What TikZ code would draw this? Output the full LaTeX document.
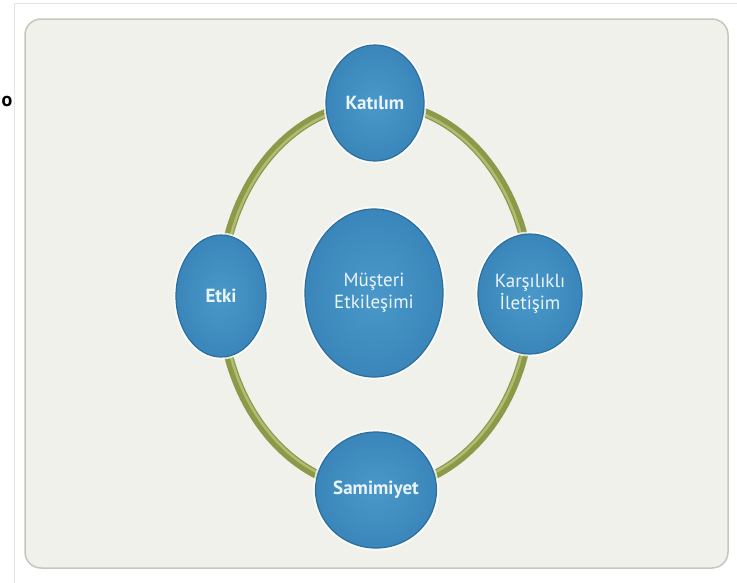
\documentclass[tikz,border=0pt]{standalone}
\usepackage{fontspec}
\setmainfont{PT Sans}
\usetikzlibrary{shapes.geometric}

\definecolor{framegray}{HTML}{E4E4E2}
\definecolor{panelfill}{HTML}{F1F1EB}
\definecolor{paneledge}{HTML}{C6C6BE}
\definecolor{ringdark}{HTML}{8C9948}
\definecolor{ringlight}{HTML}{B0BB74}
\definecolor{bubblein}{HTML}{4A98CA}
\definecolor{bubbleout}{HTML}{3A86BA}
\definecolor{bubbleedge}{HTML}{2C6E9C}
\definecolor{bubbletext}{HTML}{EAF5FB}

\begin{document}
\begin{tikzpicture}[x=1pt,y=-1pt,
  bubble/.style={ellipse, draw=bubbleedge, line width=1.2pt,
    inner color=bubblein, outer color=bubbleout, text=bubbletext,
    inner sep=0pt, align=center,
    preaction={draw=white, line width=5pt, opacity=.75}},
  orbit/.style={minimum width=98pt, minimum height=116pt},
  boldtext/.style={font=\fontsize{19}{23}\selectfont\bfseries},
  plaintext/.style={font=\fontsize{19}{22}\selectfont}]
  \useasboundingbox (0,0) rectangle (737,582);
  % frame and panel
  \fill[white] (0,0) rectangle (737,582);
  \draw[framegray, line width=1pt] (14,600) -- (14,3) -- (760,3);
  \draw[paneledge, fill=panelfill, line width=1.5pt, rounded corners=16pt]
    (25,19) rectangle (728,568);
  \node[font=\fontsize{20}{20}\selectfont\bfseries, inner sep=0pt] (cut) at (7,101) {o};
  % ring
  \coordinate (hub) at (376,296);
  \draw[ringdark, line width=9pt] (hub) ellipse [x radius=155, y radius=193];
  \draw[ringlight, line width=2.5pt] (hub) ellipse [x radius=153, y radius=191];
  % bubbles
  \node[bubble, minimum width=138pt, minimum height=168pt, plaintext] (mus) at (374,293) {Müşteri\\Etkileşimi};
  \node[bubble, orbit, boldtext] (kat) at (375,103) {Katılım};
  \node[bubble, orbit, minimum width=90pt, minimum height=122pt, boldtext] (etki) at (221,296) {Etki};
  \node[bubble, orbit, minimum width=104pt, minimum height=120pt, plaintext] (kars) at (530,294) {Karşılıklı\\İletişim};
  \node[bubble, orbit, boldtext] (sam) at (376,490) {Samimiyet};
\end{tikzpicture}
\end{document}
